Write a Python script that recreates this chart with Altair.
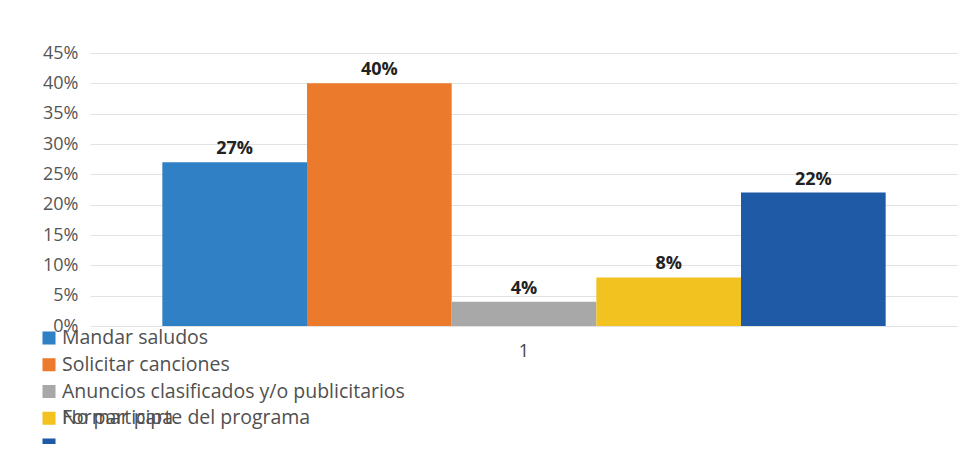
import altair as alt
import pandas as pd

# ---- data ----
categories = ["1"]
series = ["Mandar saludos", "Solicitar  canciones", "Anuncios clasificados y/o publicitarios",
          "Formar parte del programa", "No participa"]
values = [0.27, 0.40, 0.04, 0.08, 0.22]
value_labels = ["27%", "40%", "4%", "8%", "22%"]
colors = ["#2F80C5", "#EC7A2C", "#A8A8A8", "#F2C320", "#1F5AA6"]
y_ticks = [0, .05, .10, .15, .20, .25, .30, .35, .40, .45]

# legend rows (the original legend draws the last two labels on the same row)
legend_square_rows = [0, 1, 2, 3, 4]
legend_text_rows = [0, 1, 2, 3, 3]
legend_row_positions = [285, 312, 338, 365, 392]

df = pd.DataFrame({
    "cat": [categories[0]] * len(series),
    "series": series,
    "value": values,
    "label": value_labels,
})
leg = pd.DataFrame({
    "series": series,
    "sq_row": legend_square_rows,
    "txt_row": legend_text_rows,
})

FONT = "Open Sans"
color_scale = alt.Scale(domain=series, range=colors)

x_enc = alt.X("cat:N", title=None,
              scale=alt.Scale(paddingInner=0, paddingOuter=0.1),
              axis=alt.Axis(labelAngle=0, ticks=False, domain=False, labelPadding=16,
                            labelFontSize=18, labelColor="#444444", labelFont=FONT))
xo_enc = alt.XOffset("series:N", sort=series, scale=alt.Scale(paddingInner=0, paddingOuter=0))
y_enc = alt.Y("value:Q", title=None,
              scale=alt.Scale(domain=[0, 0.45], nice=False, zero=True),
              axis=alt.Axis(format=".0%", values=y_ticks, tickCount=10, labelOverlap=False,
                            ticks=False, domain=False, labelPadding=12,
                            labelFontSize=18, labelColor="#555555", labelFont=FONT,
                            gridColor="#E2E2E2", gridWidth=1))

base = alt.Chart(df).encode(x=x_enc, xOffset=xo_enc, y=y_enc)
bars = base.mark_bar().encode(
    color=alt.Color("series:N", scale=color_scale, legend=None),
)
labels = base.mark_text(baseline="bottom", dy=-4, fontSize=18, fontWeight="bold",
                        font=FONT, color="#222222").encode(text="label:N")

row_scale = alt.Scale(domain=[0, 4], range=[legend_row_positions[0], legend_row_positions[-1]])
leg_sq = alt.Chart(leg).mark_square(size=170, opacity=1).encode(
    x=alt.value(-41),
    y=alt.Y("sq_row:Q", scale=row_scale, axis=None),
    color=alt.Color("series:N", scale=color_scale, legend=None),
)
leg_txt = alt.Chart(leg).mark_text(align="left", baseline="middle", fontSize=19.5, font=FONT,
                                   color="#505050").encode(
    x=alt.value(-28),
    y=alt.Y("txt_row:Q", scale=row_scale, axis=None),
    text="series:N",
)

chart = alt.layer(
    alt.layer(bars, labels),
    alt.layer(leg_sq, leg_txt),
).resolve_scale(y="independent").properties(
    width=868, height=273,
    background="white",
    autosize=alt.AutoSizeParams(type="none"),
    padding={"left": 82, "top": 45, "right": 0, "bottom": 118},
).configure_view(stroke=None)

chart.save("out.html", embed_options={"renderer": "svg", "actions": False})
